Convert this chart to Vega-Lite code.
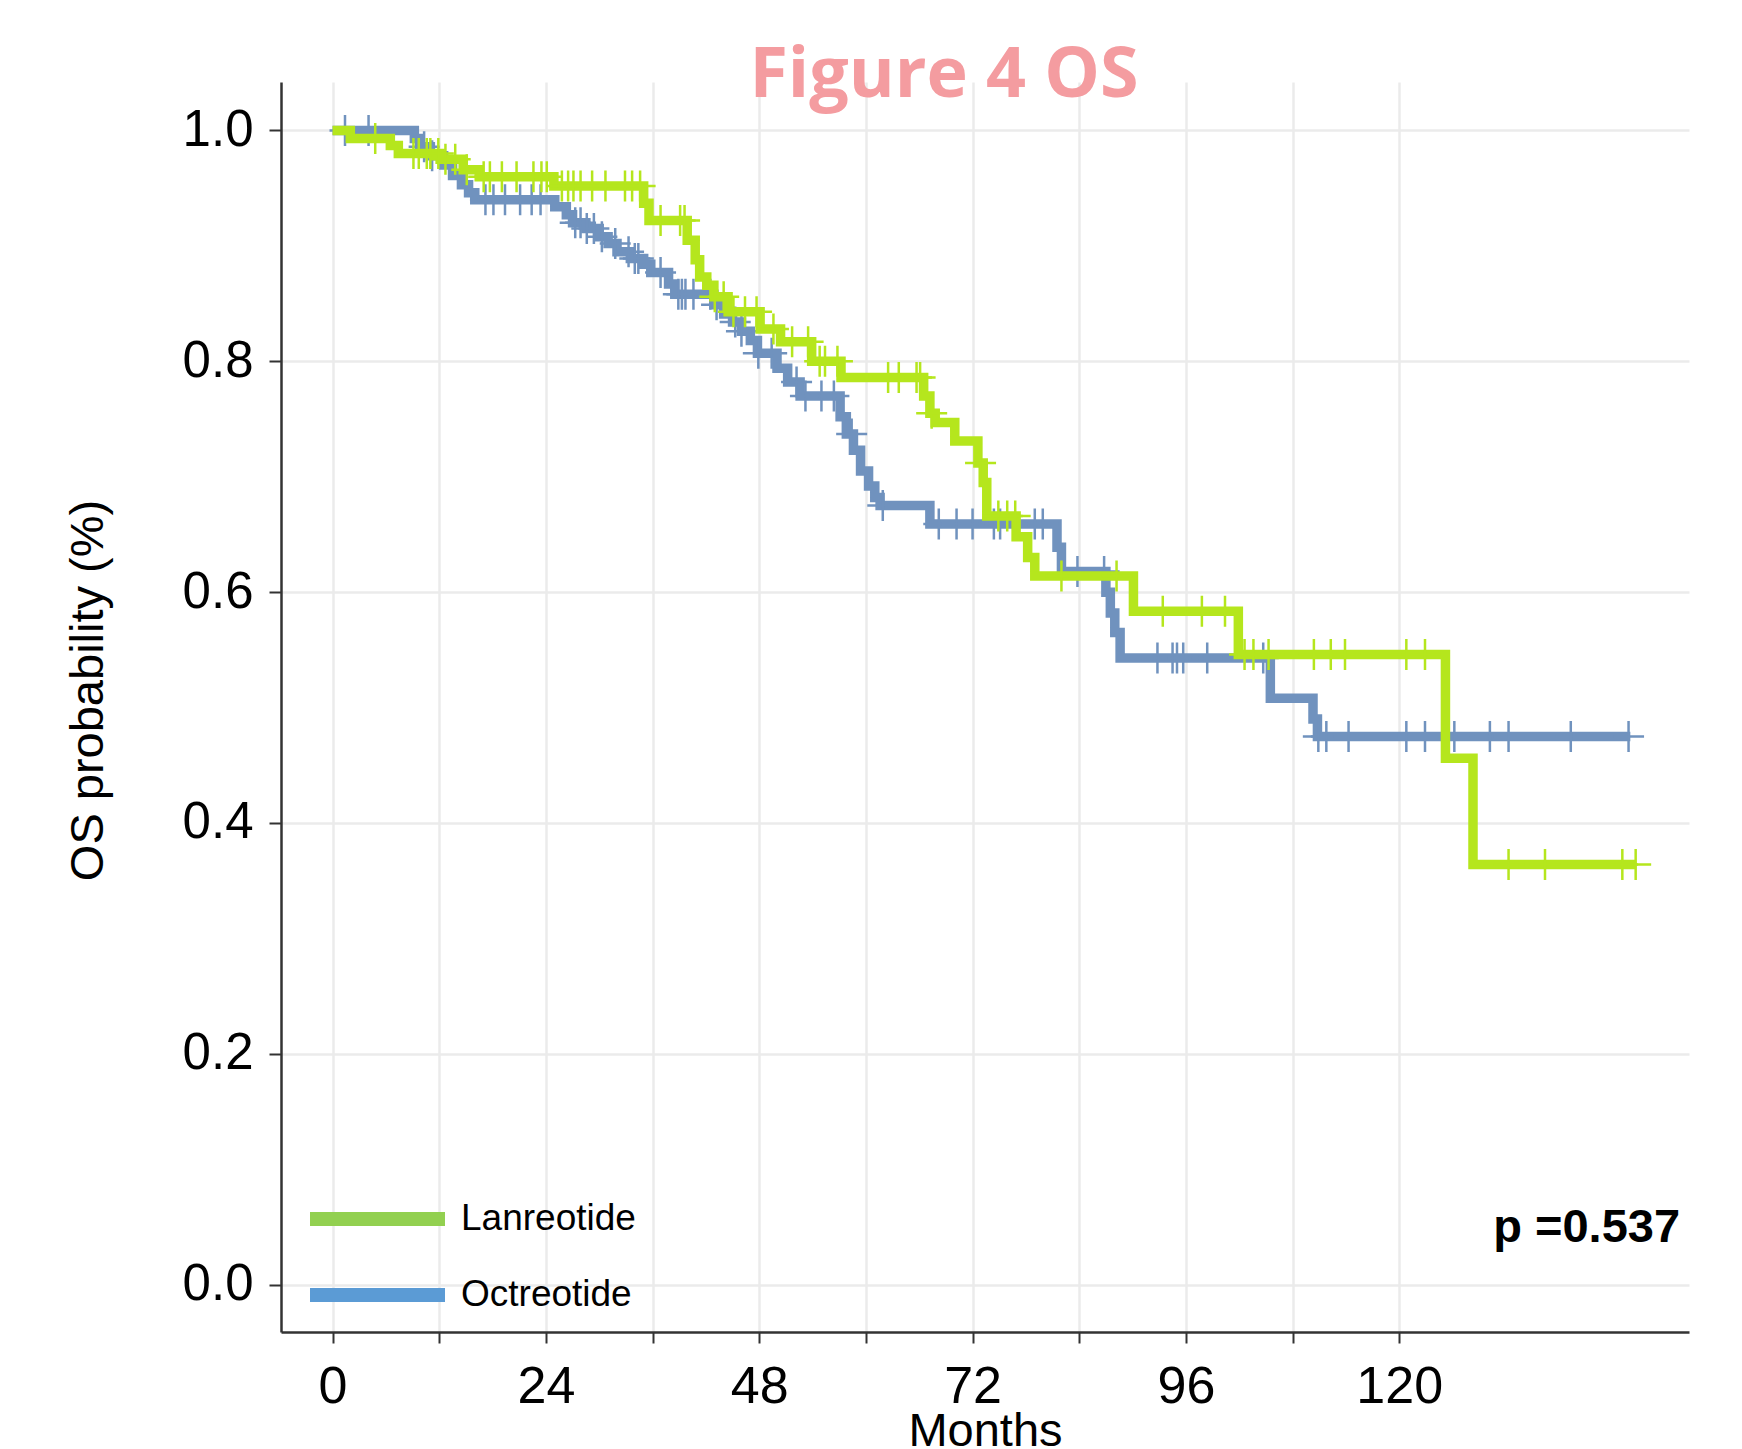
{
  "$schema": "https://vega.github.io/schema/vega-lite/v6.json",
  "width": 1408,
  "height": 1250,
  "autosize": {"type": "none"},
  "padding": {"left": 281, "top": 82, "right": 53, "bottom": 117},
  "background": "white",
  "title": {"text": "Figure 4 OS", "font": "Open Sans", "fontSize": 70, "fontWeight": 700, "color": "#F49CA0", "anchor": "middle", "dx": -41, "offset": -30},
  "config": {"view": {"stroke": null}},
  "datasets": {
    "km": [
      {"g": "Octreotide", "t": 0, "s": 1.0},
      {"g": "Octreotide", "t": 9.2, "s": 0.993},
      {"g": "Octreotide", "t": 9.8, "s": 0.986},
      {"g": "Octreotide", "t": 11, "s": 0.978},
      {"g": "Octreotide", "t": 12.5, "s": 0.970},
      {"g": "Octreotide", "t": 13.5, "s": 0.961},
      {"g": "Octreotide", "t": 14.5, "s": 0.953},
      {"g": "Octreotide", "t": 15.3, "s": 0.946},
      {"g": "Octreotide", "t": 16, "s": 0.940},
      {"g": "Octreotide", "t": 25, "s": 0.934},
      {"g": "Octreotide", "t": 26.3, "s": 0.927},
      {"g": "Octreotide", "t": 27, "s": 0.920},
      {"g": "Octreotide", "t": 28.5, "s": 0.915},
      {"g": "Octreotide", "t": 30, "s": 0.908},
      {"g": "Octreotide", "t": 31, "s": 0.902},
      {"g": "Octreotide", "t": 32, "s": 0.895},
      {"g": "Octreotide", "t": 33.5, "s": 0.889},
      {"g": "Octreotide", "t": 35, "s": 0.884},
      {"g": "Octreotide", "t": 35.8, "s": 0.877},
      {"g": "Octreotide", "t": 37.8, "s": 0.867},
      {"g": "Octreotide", "t": 38.5, "s": 0.858},
      {"g": "Octreotide", "t": 42.9, "s": 0.849},
      {"g": "Octreotide", "t": 44, "s": 0.841},
      {"g": "Octreotide", "t": 45, "s": 0.834},
      {"g": "Octreotide", "t": 46, "s": 0.826},
      {"g": "Octreotide", "t": 47, "s": 0.818},
      {"g": "Octreotide", "t": 47.8, "s": 0.807},
      {"g": "Octreotide", "t": 50, "s": 0.794},
      {"g": "Octreotide", "t": 51.2, "s": 0.782},
      {"g": "Octreotide", "t": 52.6, "s": 0.770},
      {"g": "Octreotide", "t": 57.1, "s": 0.752},
      {"g": "Octreotide", "t": 57.8, "s": 0.737},
      {"g": "Octreotide", "t": 58.6, "s": 0.723},
      {"g": "Octreotide", "t": 59.4, "s": 0.705},
      {"g": "Octreotide", "t": 60.3, "s": 0.692},
      {"g": "Octreotide", "t": 61, "s": 0.682},
      {"g": "Octreotide", "t": 61.6, "s": 0.675},
      {"g": "Octreotide", "t": 67.2, "s": 0.659},
      {"g": "Octreotide", "t": 81.5, "s": 0.639},
      {"g": "Octreotide", "t": 82, "s": 0.618},
      {"g": "Octreotide", "t": 87, "s": 0.600},
      {"g": "Octreotide", "t": 87.5, "s": 0.582},
      {"g": "Octreotide", "t": 88, "s": 0.565},
      {"g": "Octreotide", "t": 88.6, "s": 0.543},
      {"g": "Octreotide", "t": 105.5, "s": 0.508},
      {"g": "Octreotide", "t": 110.3, "s": 0.490},
      {"g": "Octreotide", "t": 110.8, "s": 0.475},
      {"g": "Octreotide", "t": 146.0, "s": 0.475},
      {"g": "Lanreotide", "t": 0, "s": 1.0},
      {"g": "Lanreotide", "t": 2.0, "s": 0.993},
      {"g": "Lanreotide", "t": 6.5, "s": 0.987},
      {"g": "Lanreotide", "t": 7.4, "s": 0.980},
      {"g": "Lanreotide", "t": 12.1, "s": 0.975},
      {"g": "Lanreotide", "t": 14.7, "s": 0.966},
      {"g": "Lanreotide", "t": 16.5, "s": 0.960},
      {"g": "Lanreotide", "t": 24.9, "s": 0.952},
      {"g": "Lanreotide", "t": 35.0, "s": 0.937},
      {"g": "Lanreotide", "t": 35.6, "s": 0.922},
      {"g": "Lanreotide", "t": 39.9, "s": 0.905},
      {"g": "Lanreotide", "t": 40.8, "s": 0.888},
      {"g": "Lanreotide", "t": 41.3, "s": 0.873},
      {"g": "Lanreotide", "t": 42.1, "s": 0.866},
      {"g": "Lanreotide", "t": 42.9, "s": 0.856},
      {"g": "Lanreotide", "t": 44.5, "s": 0.843},
      {"g": "Lanreotide", "t": 48.1, "s": 0.828},
      {"g": "Lanreotide", "t": 50.4, "s": 0.817},
      {"g": "Lanreotide", "t": 53.9, "s": 0.800},
      {"g": "Lanreotide", "t": 57.2, "s": 0.786},
      {"g": "Lanreotide", "t": 66.5, "s": 0.770},
      {"g": "Lanreotide", "t": 67.2, "s": 0.755},
      {"g": "Lanreotide", "t": 67.8, "s": 0.747},
      {"g": "Lanreotide", "t": 70.0, "s": 0.731},
      {"g": "Lanreotide", "t": 72.6, "s": 0.712},
      {"g": "Lanreotide", "t": 73.2, "s": 0.695},
      {"g": "Lanreotide", "t": 73.6, "s": 0.666},
      {"g": "Lanreotide", "t": 76.9, "s": 0.648},
      {"g": "Lanreotide", "t": 78.2, "s": 0.630},
      {"g": "Lanreotide", "t": 79.0, "s": 0.614},
      {"g": "Lanreotide", "t": 90.1, "s": 0.5835},
      {"g": "Lanreotide", "t": 101.9, "s": 0.546},
      {"g": "Lanreotide", "t": 125.2, "s": 0.456},
      {"g": "Lanreotide", "t": 128.3, "s": 0.364},
      {"g": "Lanreotide", "t": 146.6, "s": 0.364}
    ],
    "cens": [
      {"g": "Octreotide", "t": 1.4, "s": 1.0},
      {"g": "Octreotide", "t": 4.05, "s": 1.0},
      {"g": "Octreotide", "t": 10.3, "s": 0.986},
      {"g": "Octreotide", "t": 11.2, "s": 0.978},
      {"g": "Octreotide", "t": 17.2, "s": 0.94},
      {"g": "Octreotide", "t": 18.1, "s": 0.94},
      {"g": "Octreotide", "t": 19.4, "s": 0.94},
      {"g": "Octreotide", "t": 21.1, "s": 0.94},
      {"g": "Octreotide", "t": 22.4, "s": 0.94},
      {"g": "Octreotide", "t": 23.4, "s": 0.94},
      {"g": "Octreotide", "t": 27.3, "s": 0.920},
      {"g": "Octreotide", "t": 27.9, "s": 0.920},
      {"g": "Octreotide", "t": 28.6, "s": 0.915},
      {"g": "Octreotide", "t": 29.4, "s": 0.915},
      {"g": "Octreotide", "t": 30.3, "s": 0.908},
      {"g": "Octreotide", "t": 31.8, "s": 0.902},
      {"g": "Octreotide", "t": 33.3, "s": 0.895},
      {"g": "Octreotide", "t": 34.0, "s": 0.889},
      {"g": "Octreotide", "t": 34.4, "s": 0.889},
      {"g": "Octreotide", "t": 36.9, "s": 0.877},
      {"g": "Octreotide", "t": 38.9, "s": 0.858},
      {"g": "Octreotide", "t": 39.3, "s": 0.858},
      {"g": "Octreotide", "t": 39.7, "s": 0.858},
      {"g": "Octreotide", "t": 40.6, "s": 0.858},
      {"g": "Octreotide", "t": 42.5, "s": 0.858},
      {"g": "Octreotide", "t": 43.2, "s": 0.849},
      {"g": "Octreotide", "t": 45.3, "s": 0.834},
      {"g": "Octreotide", "t": 46.0, "s": 0.826},
      {"g": "Octreotide", "t": 47.9, "s": 0.807},
      {"g": "Octreotide", "t": 49.4, "s": 0.807},
      {"g": "Octreotide", "t": 52.2, "s": 0.782},
      {"g": "Octreotide", "t": 53.2, "s": 0.770},
      {"g": "Octreotide", "t": 55.0, "s": 0.770},
      {"g": "Octreotide", "t": 56.4, "s": 0.770},
      {"g": "Octreotide", "t": 58.4, "s": 0.737},
      {"g": "Octreotide", "t": 61.9, "s": 0.675},
      {"g": "Octreotide", "t": 68.2, "s": 0.659},
      {"g": "Octreotide", "t": 70.2, "s": 0.659},
      {"g": "Octreotide", "t": 72.0, "s": 0.659},
      {"g": "Octreotide", "t": 74.4, "s": 0.659},
      {"g": "Octreotide", "t": 75.1, "s": 0.659},
      {"g": "Octreotide", "t": 79.0, "s": 0.659},
      {"g": "Octreotide", "t": 79.9, "s": 0.659},
      {"g": "Octreotide", "t": 83.8, "s": 0.618},
      {"g": "Octreotide", "t": 86.8, "s": 0.618},
      {"g": "Octreotide", "t": 92.8, "s": 0.543},
      {"g": "Octreotide", "t": 94.5, "s": 0.543},
      {"g": "Octreotide", "t": 95.0, "s": 0.543},
      {"g": "Octreotide", "t": 95.7, "s": 0.543},
      {"g": "Octreotide", "t": 98.4, "s": 0.543},
      {"g": "Octreotide", "t": 104.7, "s": 0.543},
      {"g": "Octreotide", "t": 110.9, "s": 0.475},
      {"g": "Octreotide", "t": 111.8, "s": 0.475},
      {"g": "Octreotide", "t": 114.3, "s": 0.475},
      {"g": "Octreotide", "t": 120.8, "s": 0.475},
      {"g": "Octreotide", "t": 122.9, "s": 0.475},
      {"g": "Octreotide", "t": 126.2, "s": 0.475},
      {"g": "Octreotide", "t": 130.2, "s": 0.475},
      {"g": "Octreotide", "t": 132.3, "s": 0.475},
      {"g": "Octreotide", "t": 139.3, "s": 0.475},
      {"g": "Octreotide", "t": 145.8, "s": 0.475},
      {"g": "Lanreotide", "t": 4.8, "s": 0.993},
      {"g": "Lanreotide", "t": 9.1, "s": 0.980},
      {"g": "Lanreotide", "t": 9.7, "s": 0.980},
      {"g": "Lanreotide", "t": 10.6, "s": 0.980},
      {"g": "Lanreotide", "t": 11.0, "s": 0.980},
      {"g": "Lanreotide", "t": 11.9, "s": 0.980},
      {"g": "Lanreotide", "t": 12.7, "s": 0.975},
      {"g": "Lanreotide", "t": 13.8, "s": 0.975},
      {"g": "Lanreotide", "t": 15.1, "s": 0.966},
      {"g": "Lanreotide", "t": 17.0, "s": 0.960},
      {"g": "Lanreotide", "t": 17.7, "s": 0.960},
      {"g": "Lanreotide", "t": 19.05, "s": 0.960},
      {"g": "Lanreotide", "t": 20.7, "s": 0.960},
      {"g": "Lanreotide", "t": 22.6, "s": 0.960},
      {"g": "Lanreotide", "t": 23.5, "s": 0.960},
      {"g": "Lanreotide", "t": 24.1, "s": 0.960},
      {"g": "Lanreotide", "t": 25.8, "s": 0.952},
      {"g": "Lanreotide", "t": 26.5, "s": 0.952},
      {"g": "Lanreotide", "t": 27.1, "s": 0.952},
      {"g": "Lanreotide", "t": 27.9, "s": 0.952},
      {"g": "Lanreotide", "t": 29.2, "s": 0.952},
      {"g": "Lanreotide", "t": 30.7, "s": 0.952},
      {"g": "Lanreotide", "t": 32.9, "s": 0.952},
      {"g": "Lanreotide", "t": 33.7, "s": 0.952},
      {"g": "Lanreotide", "t": 34.6, "s": 0.952},
      {"g": "Lanreotide", "t": 36.9, "s": 0.922},
      {"g": "Lanreotide", "t": 39.1, "s": 0.922},
      {"g": "Lanreotide", "t": 39.6, "s": 0.922},
      {"g": "Lanreotide", "t": 43.0, "s": 0.856},
      {"g": "Lanreotide", "t": 44.0, "s": 0.856},
      {"g": "Lanreotide", "t": 45.1, "s": 0.843},
      {"g": "Lanreotide", "t": 46.4, "s": 0.843},
      {"g": "Lanreotide", "t": 47.7, "s": 0.843},
      {"g": "Lanreotide", "t": 49.6, "s": 0.828},
      {"g": "Lanreotide", "t": 51.7, "s": 0.817},
      {"g": "Lanreotide", "t": 53.5, "s": 0.817},
      {"g": "Lanreotide", "t": 54.8, "s": 0.800},
      {"g": "Lanreotide", "t": 55.4, "s": 0.800},
      {"g": "Lanreotide", "t": 56.8, "s": 0.800},
      {"g": "Lanreotide", "t": 62.5, "s": 0.786},
      {"g": "Lanreotide", "t": 63.7, "s": 0.786},
      {"g": "Lanreotide", "t": 65.7, "s": 0.786},
      {"g": "Lanreotide", "t": 66.1, "s": 0.786},
      {"g": "Lanreotide", "t": 67.4, "s": 0.755},
      {"g": "Lanreotide", "t": 72.9, "s": 0.712},
      {"g": "Lanreotide", "t": 74.9, "s": 0.666},
      {"g": "Lanreotide", "t": 75.9, "s": 0.666},
      {"g": "Lanreotide", "t": 76.8, "s": 0.666},
      {"g": "Lanreotide", "t": 82.0, "s": 0.614},
      {"g": "Lanreotide", "t": 88.2, "s": 0.614},
      {"g": "Lanreotide", "t": 93.4, "s": 0.5835},
      {"g": "Lanreotide", "t": 97.8, "s": 0.5835},
      {"g": "Lanreotide", "t": 100.4, "s": 0.5835},
      {"g": "Lanreotide", "t": 102.6, "s": 0.546},
      {"g": "Lanreotide", "t": 103.6, "s": 0.546},
      {"g": "Lanreotide", "t": 105.3, "s": 0.546},
      {"g": "Lanreotide", "t": 110.4, "s": 0.546},
      {"g": "Lanreotide", "t": 112.3, "s": 0.546},
      {"g": "Lanreotide", "t": 113.9, "s": 0.546},
      {"g": "Lanreotide", "t": 120.8, "s": 0.546},
      {"g": "Lanreotide", "t": 122.9, "s": 0.546},
      {"g": "Lanreotide", "t": 132.3, "s": 0.364},
      {"g": "Lanreotide", "t": 136.4, "s": 0.364},
      {"g": "Lanreotide", "t": 145.1, "s": 0.364},
      {"g": "Lanreotide", "t": 146.6, "s": 0.364}
    ]
  },
  "layer": [
    {
      "data": {"name": "km"},
      "transform": [{"filter": "datum.g === 'Octreotide'"}],
      "mark": {"type": "line", "interpolate": "step-after", "strokeWidth": 9.5},
      "encoding": {
        "x": {
          "field": "t", "type": "quantitative",
          "scale": {"domain": [-5.8, 152.6], "nice": false, "zero": false},
          "axis": {
            "values": [0, 12, 24, 36, 48, 60, 72, 84, 96, 108, 120],
            "labelExpr": "datum.value % 24 === 0 ? datum.label : ''",
            "labelFont": "Liberation Sans", "labelFontSize": 52, "labelColor": "#000",
            "labelPadding": 18, "labelFlush": false, "labelOverlap": false, "labelDx": 4,
            "tickSize": 11, "tickWidth": 2, "tickColor": "#333",
            "domainColor": "#333", "domainWidth": 2.5,
            "grid": true, "gridColor": "#EBEBEB", "gridWidth": 2.5,
            "title": "Months", "titleFont": "Liberation Sans", "titleFontSize": 47,
            "titleFontWeight": "normal", "titleColor": "#000", "titlePadding": -4
          }
        },
        "y": {
          "field": "s", "type": "quantitative",
          "scale": {"domain": [-0.041, 1.042], "nice": false, "zero": false},
          "axis": {
            "values": [0, 0.2, 0.4, 0.6, 0.8, 1.0], "format": ".1f",
            "labelFont": "Liberation Sans", "labelFontSize": 51, "labelColor": "#000",
            "labelPadding": 16, "labelFlush": false, "labelOverlap": false,
            "tickSize": 12, "tickWidth": 2, "tickColor": "#333",
            "domainColor": "#333", "domainWidth": 2.5,
            "grid": true, "gridColor": "#EBEBEB", "gridWidth": 2.5,
            "title": "OS probability (%)", "titleFont": "Liberation Sans", "titleFontSize": 47,
            "titleFontWeight": "normal", "titleColor": "#000", "titlePadding": 70, "titleY": 608
          }
        },
        "color": {
          "field": "g", "type": "nominal",
          "scale": {"domain": ["Lanreotide", "Octreotide"], "range": ["#B5E61D", "#7092BE"]},
          "legend": {
            "orient": "none", "legendX": 29, "legendY": 1119, "title": null,
            "symbolType": "square", "symbolSize": 400,
            "labelFont": "Liberation Sans", "labelFontSize": 37, "labelColor": "#000",
            "labelOffset": 16, "rowPadding": 39, "labelLimit": 600,
            "encode": {
              "symbols": {
                "update": {
                  "shape": {"value": "M-1,-0.104L1,-0.104L1,0.104L-1,0.104Z"},
                  "size": {"value": 18225},
                  "y": {"value": 18},
                  "fill": {"signal": "datum.value === 'Lanreotide' ? '#92D050' : '#5B9BD5'"},
                  "stroke": {"value": "transparent"},
                  "strokeWidth": {"value": 0},
                  "opacity": {"value": 1}
                }
              },
              "labels": {
                "update": {"y": {"value": 18}}
              }
            }
          }
        }
      }
    },
    {
      "data": {"name": "cens"},
      "transform": [{"filter": "datum.g === 'Octreotide'"}],
      "mark": {"type": "point", "shape": "M-1,0L1,0M0,-1L0,1", "filled": false, "size": 961, "strokeWidth": 2.5, "opacity": 1},
      "encoding": {
        "x": {"field": "t", "type": "quantitative"},
        "y": {"field": "s", "type": "quantitative"},
        "color": {"field": "g", "type": "nominal"}
      }
    },
    {
      "data": {"name": "km"},
      "transform": [{"filter": "datum.g === 'Lanreotide'"}],
      "mark": {"type": "line", "interpolate": "step-after", "strokeWidth": 9.5},
      "encoding": {
        "x": {"field": "t", "type": "quantitative"},
        "y": {"field": "s", "type": "quantitative"},
        "color": {"field": "g", "type": "nominal"}
      }
    },
    {
      "data": {"name": "cens"},
      "transform": [{"filter": "datum.g === 'Lanreotide'"}],
      "mark": {"type": "point", "shape": "M-1,0L1,0M0,-1L0,1", "filled": false, "size": 961, "strokeWidth": 2.5, "opacity": 1},
      "encoding": {
        "x": {"field": "t", "type": "quantitative"},
        "y": {"field": "s", "type": "quantitative"},
        "color": {"field": "g", "type": "nominal"}
      }
    },
    {
      "data": {"values": [{"label": "p =0.537"}]},
      "mark": {"type": "text", "font": "Liberation Sans", "fontSize": 47, "fontWeight": "bold", "align": "right", "baseline": "alphabetic", "color": "#000"},
      "encoding": {
        "x": {"datum": 151.6, "type": "quantitative"},
        "y": {"datum": 0.037, "type": "quantitative"},
        "text": {"field": "label", "type": "nominal"}
      }
    }
  ]
}
